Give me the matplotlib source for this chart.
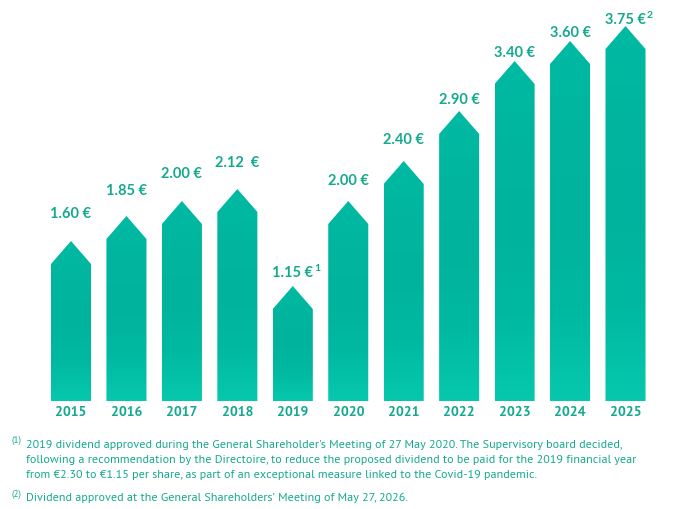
import matplotlib
matplotlib.use('Agg')
import matplotlib.pyplot as plt
import numpy as np
from matplotlib.patches import Polygon
from matplotlib import transforms
from matplotlib.colors import LinearSegmentedColormap

years = ['2015', '2016', '2017', '2018', '2019', '2020', '2021', '2022', '2023', '2024', '2025']
dividends = [1.60, 1.85, 2.00, 2.12, 1.15, 2.00, 2.40, 2.90, 3.40, 3.60, 3.75]
value_labels = ['1.60 €', '1.85 €', '2.00 €', '2.12  €', '1.15 €', '2.00 €', '2.40 €',
                '2.90 €', '3.40 €', '3.60 €', '3.75 €']
label_notes = ['', '', '', '', '1', '', '', '', '', '', '2']
label_gap_px = [28, 26, 28, 27, 14, 21, 22, 12, 9, 9, 7]

footnote_1 = ["2019 dividend approved during the General Shareholder's Meeting of 27 May 2020. The Supervisory board decided,",
              "following a recommendation by the Directoire, to reduce the proposed dividend to be paid for the 2019 financial year",
              "from €2.30 to €1.15 per share, as part of an exceptional measure linked to the Covid-19 pandemic."]
footnote_2 = "Dividend approved at the General Shareholders\u2019 Meeting of May 27, 2026."

W, H = 689, 510
TEAL_TXT = '#14A98F'
VAL_FONT = ['Lato', 'DejaVu Sans']
YEAR_FONT = ['PT Sans', 'Open Sans', 'DejaVu Sans']
NOTE_FONT = ['PT Sans', 'Liberation Sans', 'DejaVu Sans']

fig = plt.figure(figsize=(W / 100, H / 100), dpi=100)
base_px = 402
ax = fig.add_axes([0, (H - base_px) / H, 1, base_px / H])
step = 55.45
x0 = 71
ax.axis('off')

cmap = LinearSegmentedColormap.from_list('g', ['#06C8AD', '#00B9A1', '#00B39C', '#00B59E', '#00BAA3'])
half_w = 0.361
head = 0.23
for i, v in enumerate(dividends):
    c = i
    pts = [(c - half_w, 0), (c + half_w, 0), (c + half_w, v - head), (c, v), (c - half_w, v - head)]
    poly = Polygon(pts, closed=True, facecolor='none', edgecolor='none')
    ax.add_patch(poly)
    grad = np.linspace(0, 1, 256).reshape(-1, 1)
    im = ax.imshow(grad, extent=[c - half_w, c + half_w, 0, v], origin='lower',
                   aspect='auto', cmap=cmap, interpolation='bilinear')
    im.set_clip_path(poly)

ax.set_xlim(-x0 / step, (W - x0) / step)
ax.set_ylim(0, base_px / 100)

texts = []
for i, v in enumerate(dividends):
    tr = transforms.offset_copy(ax.transData, fig=fig, x=0, y=label_gap_px[i], units='dots')
    t = ax.text(i, v, value_labels[i], transform=tr, ha='center', va='center',
                fontsize=10.5, fontweight='bold', color=TEAL_TXT, family=VAL_FONT)
    texts.append(t)
    ty = transforms.offset_copy(ax.transData, fig=fig, x=0, y=-11, units='dots')
    ax.text(i, 0, years[i], transform=ty, ha='center', va='center',
            fontsize=10, fontweight='bold', color=TEAL_TXT, family=YEAR_FONT)

fig.canvas.draw()
for t, note in zip(texts, label_notes):
    if note:
        bb = t.get_window_extent()
        fig.text((bb.x1 + 1) / W, (bb.y1 + 2) / H, note, ha='left', va='top',
                 fontsize=7.5, fontweight='bold', color=TEAL_TXT, family=VAL_FONT)

fs = 8.7
ys = [445, 460, 475]
fig.text(12 / W, 1 - 440 / H, '(1)', fontsize=6.5, color=TEAL_TXT, family=NOTE_FONT, ha='left', va='center')
for y, line in zip(ys, footnote_1):
    fig.text(26 / W, 1 - y / H, line, fontsize=fs, color=TEAL_TXT, family=NOTE_FONT, ha='left', va='center')
fig.text(12 / W, 1 - 494 / H, '(2)', fontsize=6.5, color=TEAL_TXT, family=NOTE_FONT, ha='left', va='center')
fig.text(26 / W, 1 - 498 / H, footnote_2, fontsize=fs, color=TEAL_TXT, family=NOTE_FONT, ha='left', va='center')

fig.savefig('out.png', dpi=100)
